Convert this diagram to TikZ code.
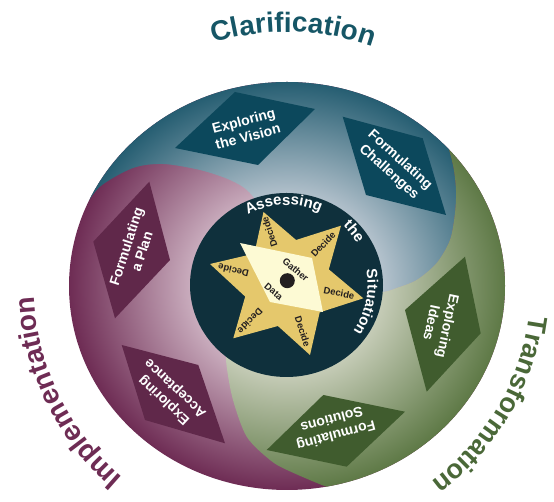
\documentclass[tikz,border=0pt]{standalone}
\usepackage{fontspec}
\setmainfont{Liberation Sans}
\usetikzlibrary{decorations.text}
\definecolor{tealD}{RGB}{38,94,114}
\definecolor{tealL}{RGB}{190,201,211}
\definecolor{mauD}{RGB}{110,44,84}
\definecolor{mauL}{RGB}{208,182,197}
\definecolor{grnD}{RGB}{94,121,70}
\definecolor{grnL}{RGB}{204,209,190}
\definecolor{tealBox}{RGB}{12,72,92}
\definecolor{mauBox}{RGB}{96,40,74}
\definecolor{grnBox}{RGB}{64,92,46}
\definecolor{core}{RGB}{15,48,60}
\definecolor{gold}{RGB}{229,200,108}
\definecolor{cream}{RGB}{253,250,212}
\definecolor{clarT}{RGB}{22,86,102}
\definecolor{implT}{RGB}{110,44,84}
\definecolor{tranT}{RGB}{74,104,56}
\definecolor{ink}{RGB}{35,31,32}
\pgfdeclareradialshading{tealsh}{\pgfpoint{0bp}{0bp}}{color(0bp)=(tealL); color(10bp)=(tealL); color(25bp)=(tealD); color(50bp)=(tealD)}
\pgfdeclareradialshading{maush}{\pgfpoint{0bp}{0bp}}{color(0bp)=(mauL); color(10bp)=(mauL); color(25bp)=(mauD); color(50bp)=(mauD)}
\pgfdeclareradialshading{grnsh}{\pgfpoint{0bp}{0bp}}{color(0bp)=(grnL); color(10bp)=(grnL); color(25bp)=(grnD); color(50bp)=(grnD)}
\newcommand\bigtxt{\fontsize{28}{30}\selectfont\bfseries}
\newcommand\bigtxtb{\fontsize{27}{29}\selectfont\bfseries}
\newcommand\midtxt{\fontsize{15}{16}\selectfont\bfseries}
\newcommand\boxtxt{\fontsize{14}{16.5}\selectfont\bfseries}
\newcommand\startxt{\fontsize{9.5}{10}\selectfont\bfseries}
\tikzset{
  boxlabel/.style={text=white, font=\boxtxt, align=center, inner sep=0pt},
  starlabel/.style={text=ink, font=\startxt, inner sep=0pt},
}
\begin{document}
\begin{tikzpicture}[x=1pt,y=1pt]
\useasboundingbox (0,0) rectangle (554,502);
\coordinate (O) at (287,216);
\coordinate (TC) at (287,217);
\coordinate (C2) at (286.5,217);
\coordinate (S) at (287,219);
% mauve lobe (base)
\shade[shading=maush] (O) ellipse [x radius=218, y radius=204];
% teal lobe
\begin{scope}
\clip (287,216) -- plot[smooth] coordinates {(276,273) (250,309) (230,322) (200,332) (163,338) (133,334) (100,315.3) (81.7,290.3) (65,265) (52,240)}
  -- (-20,240) -- (-20,560) -- (600,560)
  -- plot[smooth] coordinates {(408,409) (422,394) (435,377) (446.7,358.7) (453.3,335.3) (456,312) (455,289) (450,262) (436.7,239) (416.7,222) (396.7,214) (385,210.3) (365,209)} -- cycle;
\shade[shading=tealsh] (O) ellipse [x radius=218, y radius=204];
\end{scope}
% green lobe
\begin{scope}
\clip (287,216) -- plot[smooth] coordinates {(365,209) (385,210.3) (396.7,214) (416.7,222) (436.7,239) (450,262) (455,289) (456,312) (453.3,335.3) (446.7,358.7) (435,377) (422,394) (408,409)}
  -- (600,560) -- (600,-60) -- (395,-60)
  -- plot[smooth] coordinates {(395,-3) (360,5) (327,15) (287,32) (270,42) (246.7,65.3) (233,102) (226.7,135.3) (227,149) (235,167)} -- cycle;
\shade[shading=grnsh] (O) ellipse [x radius=218, y radius=204];
\end{scope}
% diamonds
\fill[tealBox] (235,410) -- (315,393) -- (258,337) -- (175,354) -- cycle;
\fill[tealBox] (342.7,385.3) -- (422.7,363.7) -- (446,287) -- (366,307) -- cycle;
\fill[grnBox] (465,245.3) -- (480.7,168.7) -- (426.7,110.3) -- (405,192) -- cycle;
\fill[grnBox] (323.3,107) -- (405,90.3) -- (346.7,35.3) -- (266.7,52) -- cycle;
\fill[mauBox] (121.7,157) -- (198.3,137) -- (225,58.7) -- (145,82) -- cycle;
\fill[mauBox] (149.3,320.3) -- (170,242) -- (115,183.7) -- (93.3,260.3) -- cycle;
% core
\fill[core] (C2) ellipse [x radius=96.5, y radius=92];
% star
\fill[gold] (263.5,290) -- (296.1,262) -- (341,276.3) -- (328.8,232.6) -- (363.3,203.7) -- (319.7,189.6)
  -- (310,147) -- (277.9,176) -- (233.3,163.7) -- (245.2,205.4) -- (210,238) -- (254.3,248.4) -- cycle;
\fill[cream] (240,259) -- (312,244) -- (323,190) -- (270,200) -- cycle;
\fill[ink] (287.3,221.3) circle (7.5);
% star labels
\node[starlabel, rotate=109] (d1) at ([shift={(109:54)}]S) {Decide};
\node[starlabel, rotate=47] (d2) at ([shift={(47:53)}]S) {Decide};
\node[starlabel, rotate=-11] (d3) at ([shift={(-11:53)}]S) {Decide};
\node[starlabel, rotate=-72] (d4) at ([shift={(-72:51)}]S) {Decide};
\node[starlabel, rotate=-134] (d5) at ([shift={(-134:53)}]S) {Decide};
\node[starlabel, rotate=167] (d6) at ([shift={(167:55)}]S) {Decide};
\node[starlabel, rotate=-40] (gather) at (295.7,232.3) {Gather};
\node[starlabel, rotate=-40] (data) at (273.7,210.3) {Data};
% diamond labels
\node[boxlabel, rotate=15] (vision) at (245.75,373.5) {Exploring\\the Vision};
\node[boxlabel, rotate=-42] (chall) at (394.4,335.75) {Formulating\\Challenges};
\node[boxlabel, rotate=-102] (ideas) at (440,177.5) {Exploring\\Ideas};
\node[boxlabel, rotate=-165] (sol) at (334,74) {Formulating\\Solutions};
\node[boxlabel, rotate=137] (acc) at (170,108) {Exploring\\Acceptance};
\node[boxlabel, rotate=72] (plan) at (134,253) {Formulating\\a Plan};
% inner ring text
\path[decorate, decoration={text along path, text align=center, text color=white, text={|\midtxt|Assessing}}]
  ([shift={(122:80)}]C2) arc[start angle=122, end angle=62, radius=80];
\path[decorate, decoration={text along path, text align=center, text color=white, text={|\midtxt|the}}]
  ([shift={(58.6:82)}]C2) arc[start angle=58.6, end angle=18.6, radius=82];
\path[decorate, decoration={text along path, text align=center, text color=white, text={|\midtxt|Situation}}]
  ([shift={(23:81)}]C2) arc[start angle=23, end angle=-47, radius=81];
% outer ring text
\path[decorate, decoration={text along path, text align=center, text color=clarT, text={|\bigtxt|Clarification}}]
  ([shift={(128.6:253)}]TC) arc[start angle=128.6, end angle=48.6, radius=253];
\path[decorate, decoration={text along path, text align=center, text color=implT, text={|\bigtxt|Implementation}}]
  ([shift={(246:253)}]TC) arc[start angle=246, end angle=166, radius=253];
\path[decorate, decoration={text along path, text align=center, text color=tranT, text={|\bigtxtb|Transformation}}]
  ([shift={(9.5:244)}]TC) arc[start angle=9.5, end angle=-70.5, radius=244];
\end{tikzpicture}
\end{document}
